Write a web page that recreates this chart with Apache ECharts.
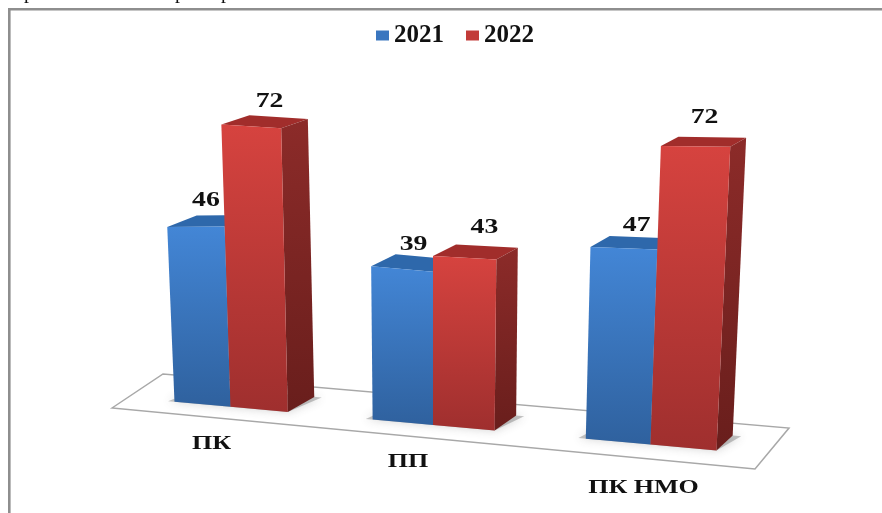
<!DOCTYPE html>
<html>
<head>
<meta charset="utf-8">
<style>html,body{margin:0;padding:0;background:#fff}#c{width:882px;height:513px}</style>
<script src="https://cdn.jsdelivr.net/npm/echarts@6/dist/echarts.min.js"></script>
</head>
<body>
<div id="c"></div>
<script>
const categories = ['ПК', 'ПП', 'ПК НМО'];
const seriesNames = ['2021', '2022'];
const values2021 = [46, 39, 47];
const values2022 = [72, 43, 72];

// Pseudo-3D view settings
const BAR_W = 61, FORESHORTEN = 1.7e-4, FLOOR_SLOPE = 0.09, LEAN = 1.6e-4;
const SCALE_KNOTS = [[-258,.95],[-203,.98],[-145,.985],[0,.9825],[61,.995],[154,1.02],[284,1.055]];
const SERIF = '"Liberation Serif","Times New Roman",serif';
const STRETCH = 1.32;
const LABEL_SHIFT = [[-19, 37], [-25, 37], [-7, 44]];
const VALUE_SHIFT = [[[-8, 3], [-4, 8], [0, 8]], [[1, 4], [5, 1], [-3, -1]]];

function ratio(dx) {
  const k = SCALE_KNOTS;
  if (dx <= k[0][0]) return k[0][1];
  for (let i = 1; i < k.length; i++) {
    if (dx <= k[i][0]) {
      const t = (dx - k[i-1][0]) / (k[i][0] - k[i-1][0]);
      return k[i-1][1] + t * (k[i][1] - k[i-1][1]);
    }
  }
  return k[k.length-1][1];
}
function projector(api) {
  const mid = api.coord([1, 0]);
  const unit = api.size([0, 1])[1];
  return function (u, v, back) {
    const d = u - mid[0];
    const x0 = mid[0] + d * (1 + FORESHORTEN * d);
    const y0 = mid[1] + FLOOR_SLOPE * (x0 - mid[0]);
    const h = v * unit * ratio(x0 - mid[0]);
    let x = x0 + LEAN * (x0 - mid[0]) * h, y = y0 - h;
    if (back) { x += 23 - 0.024 * (x - mid[0]); y -= 15 - 6 * h / 300; }
    return [x, y];
  };
}
function grad(a, b) {
  return new echarts.graphic.LinearGradient(0, 0, 0, 1, [{offset:0,color:a},{offset:1,color:b}]);
}
const poly = (points, fill, z2) => ({type:'polygon', shape:{points}, z2: z2 || 0, style:{fill}});

function barRenderer(side, colors) {
  return function (params, api) {
    const c = api.value(0), v = api.value(1);
    const P = projector(api);
    const cx = api.coord([c, 0])[0];
    const u1 = side === 0 ? cx - BAR_W : cx, u2 = side === 0 ? cx : cx + BAR_W;
    const a = P(u1, v), b = P(u2, v), e = P(u2, 0), f = P(u1, 0);
    const ba = P(u1, v, true), bb = P(u2, v, true), be = P(u2, 0, true);
    const s = VALUE_SHIFT[side][c];
    return {type:'group', children:[
      poly([a, ba, bb, b], colors.top),
      poly([b, bb, be, e], grad(colors.side[0], colors.side[1])),
      poly([a, b, e, f], grad(colors.front[0], colors.front[1])),
      {type:'text', x:(a[0] + bb[0]) / 2 + 4 + s[0], y: ba[1] - 18 + s[1], scaleX: STRETCH, z2: 5,
       style:{text:String(v), x:0, y:0, align:'center', verticalAlign:'middle', fill:'#111',
              font:'bold 21px ' + SERIF}}
    ]};
  };
}
function floorRenderer(params, api) {
  const c = api.value(0);
  const P = projector(api);
  const base = api.coord([c, 0]);
  const s0 = P(base[0] - BAR_W - 7, 0), s1 = P(base[0] + BAR_W, 0),
        s2 = P(base[0] + BAR_W + 8, 0, true), s3 = P(base[0] - BAR_W, 0, true);
  const children = [];
  if (c === 0) {
    const l = api.coord([0, 0]), r = api.coord([2, 0]);
    const q = [[l[0]-111, l[1]-17], [l[0]-60, l[1]-51], [r[0]+146, r[1]+3], [r[0]+112, r[1]+44]];
    children.push({type:'polygon', shape:{points:q}, z2:0,
      style:{fill:'#fff', stroke:'#a8a8a8', lineWidth:1.5}});
  }
  children.push({type:'polygon', shape:{points:[s0,s1,s2,s3]}, z2:1,
    style:{fill:'rgba(110,110,110,.4)', shadowBlur:10, shadowColor:'rgba(70,70,70,.6)'}});
  const fp = P(base[0], 0);
  const sh = LABEL_SHIFT[c];
  children.push({type:'text', x: fp[0] + sh[0], y: fp[1] + sh[1], scaleX: STRETCH + .05, z2: 2,
    style:{text: categories[c], x:0, y:0, align:'center', verticalAlign:'middle', fill:'#111',
           font:'bold 19px ' + SERIF}});
  return {type:'group', children};
}

const clipped = [['р', 24], ['р', 175], ['р', 221]];
const chart = echarts.init(document.getElementById('c'), null, {renderer:'canvas'});
const toRows = arr => arr.map((v, i) => [i, v]);
const blue = {front:['#4386d6','#2f619e'], side:['#2c5f9c','#234c7d'], top:'#2e68ab'};
const red = {front:['#d6433f','#9f2f2e'], side:['#8c2b29','#691e1c'], top:'#a12d2b'};
chart.setOption({
  animation:false,
  backgroundColor:'#fff',
  graphic:[
    {type:'rect', shape:{x:8, y:8, width:2.6, height:505}, style:{fill:'#8e8e8e'}, silent:true},
    {type:'rect', shape:{x:8, y:8, width:874, height:2.6}, style:{fill:'#8e8e8e'}, silent:true}
  ].concat(clipped.map(t => ({type:'text', x:t[1], y:-17, silent:true,
      style:{text:t[0], fill:'#111', font:'20px ' + SERIF}}))),
  legend:{
    data:[
      {name:seriesNames[0], icon:'rect', itemStyle:{color:'#3a76bf'}},
      {name:seriesNames[1], icon:'rect', itemStyle:{color:'#c23b38'}}
    ],
    left:371, top:18, itemWidth:13, itemHeight:10, itemGap:22, selectedMode:false,
    textStyle:{fontFamily:SERIF, fontWeight:'bold', fontSize:25, color:'#111', padding:[2,0,0,0]}
  },
  grid:{left:118, width:630, top:105, height:320},
  xAxis:{type:'category', data:categories, show:false},
  yAxis:{type:'value', min:0, max:80, show:false},
  series:[
    {type:'custom', name:'floor', silent:true, z:1, clip:false, renderItem:floorRenderer,
     data:categories.map((_, i) => [i, 0]), encode:{x:0, y:1}},
    {type:'custom', name:seriesNames[0], z:2, clip:false, renderItem:barRenderer(0, blue),
     itemStyle:{color:'#3a76bf'}, data:toRows(values2021), encode:{x:0, y:1}},
    {type:'custom', name:seriesNames[1], z:3, clip:false, renderItem:barRenderer(1, red),
     itemStyle:{color:'#c23b38'}, data:toRows(values2022), encode:{x:0, y:1}}
  ]
});
</script>
</body>
</html>
